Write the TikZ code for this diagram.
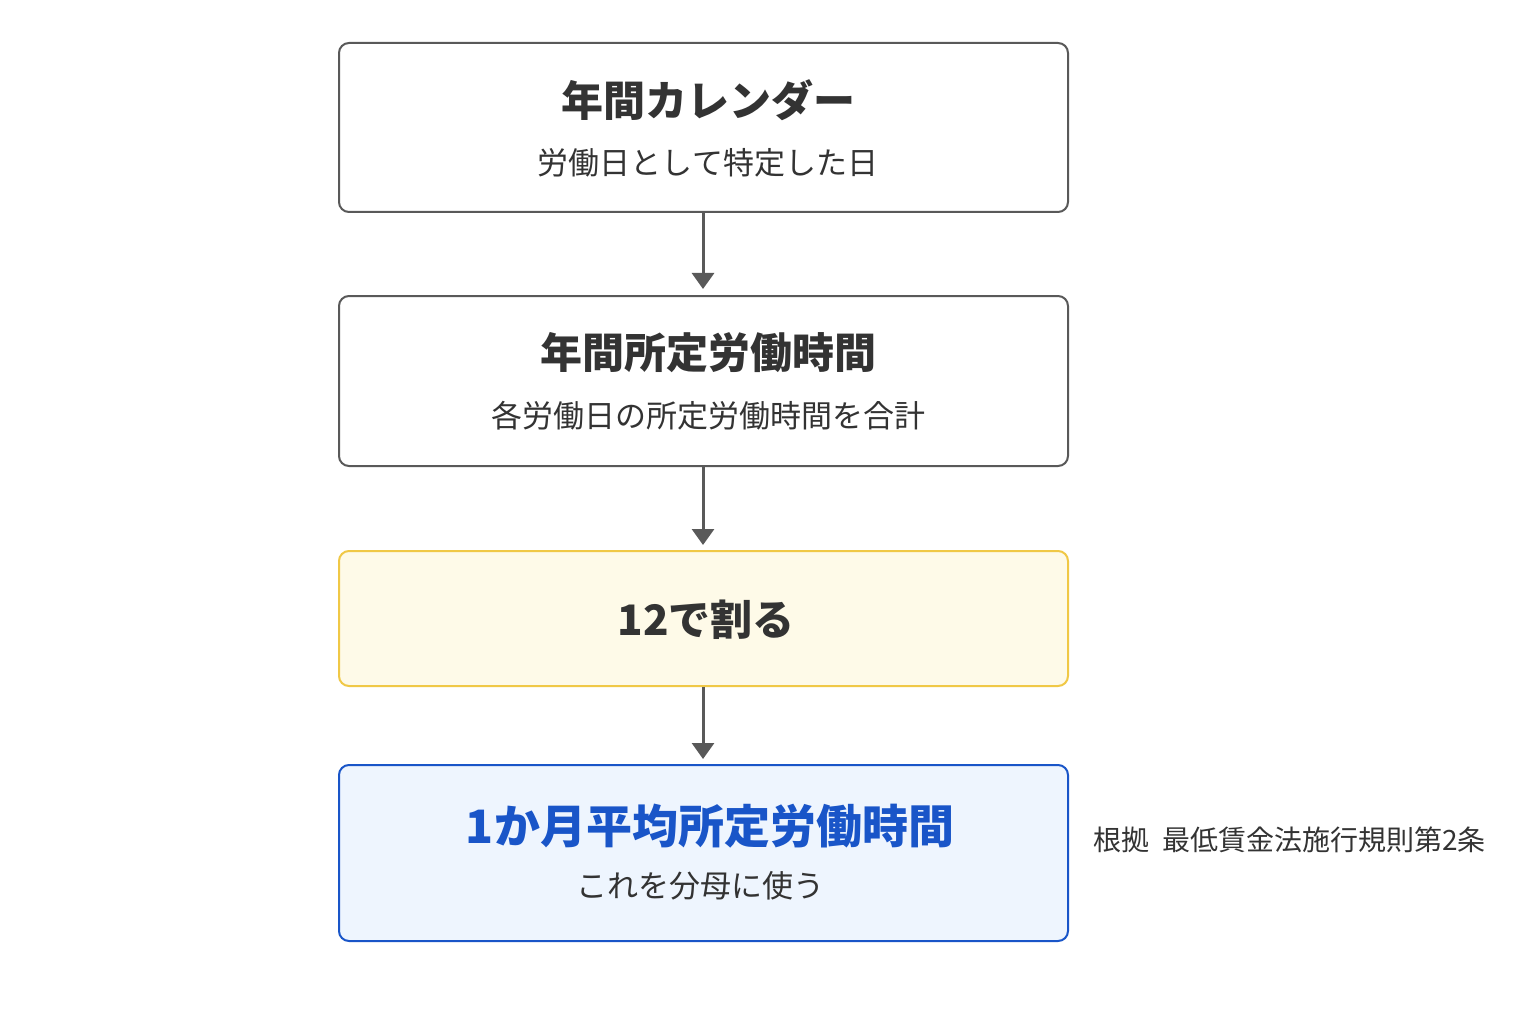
\documentclass[tikz,border=0pt]{standalone}
\usepackage{fontspec}
\setmainfont{Noto Sans CJK JP}
\usetikzlibrary{arrows.meta}
\definecolor{ydraw}{RGB}{240,200,70}
\definecolor{yfill}{RGB}{254,250,232}
\definecolor{bdraw}{RGB}{25,85,200}
\definecolor{bfill}{RGB}{238,245,254}
\begin{document}
\begin{tikzpicture}[x=1pt,y=-1pt,
 box/.style={draw=#1,line width=2pt,rounded corners=10pt},
 ttl/.style={font=\fontsize{42}{48}\selectfont\bfseries,text=black!80},
 sub/.style={font=\fontsize{31}{36}\selectfont,text=black!80},
 arr/.style={draw=black!65,line width=3pt,-{Triangle[length=16pt,width=22pt]}}]
\useasboundingbox[fill=white] (0,0) rectangle (1536,1024);
\draw[box=black!65,fill=white] (339,43) rectangle (1068,212);
\draw[box=black!65,fill=white] (339,296) rectangle (1068,466);
\draw[box=ydraw,fill=yfill] (339,551) rectangle (1068,686);
\draw[box=bdraw,fill=bfill] (339,765) rectangle (1068,941);
\node[ttl] (t1) at (708,100) {年間カレンダー};
\node[sub] (s1) at (708,163) {労働日として特定した日};
\node[ttl] (t2) at (708,353) {年間所定労働時間};
\node[sub] (s2) at (708,416) {各労働日の所定労働時間を合計};
\node[ttl] (t3) at (706,620) {12で割る};
\node[ttl,font=\fontsize{46}{52}\selectfont\bfseries,text=bdraw] (t4) at (710,826) {1か月平均所定労働時間};
\node[sub] (s4) at (700,886) {これを分母に使う};
\node[font=\fontsize{28}{32}\selectfont,text=black!80,anchor=west] (n) at (1090,840) {根拠\ \ 最低賃金法施行規則第2条};
\coordinate (a1) at (703,213); \coordinate (b1) at (703,289);
\coordinate (a2) at (703,467); \coordinate (b2) at (703,545);
\coordinate (a3) at (703,687); \coordinate (b3) at (703,759);
\draw[arr] (a1) -- (b1);
\draw[arr] (a2) -- (b2);
\draw[arr] (a3) -- (b3);
\end{tikzpicture}
\end{document}
